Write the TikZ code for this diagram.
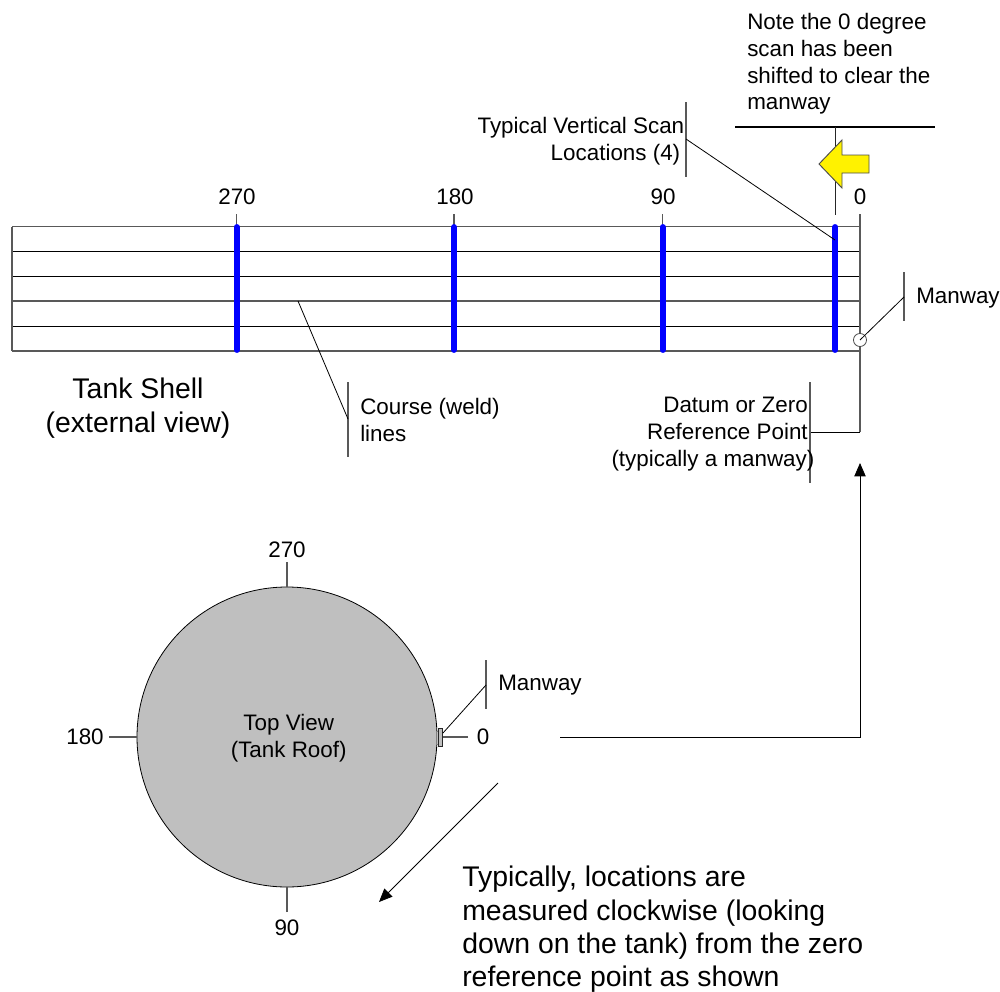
\documentclass[tikz,border=0pt]{standalone}
\usepackage{fontspec}
\setmainfont{Liberation Sans}
\usetikzlibrary{arrows.meta}
\tikzset{
  thin line/.style={draw=black,line width=0.6pt},
  gray line/.style={draw=black!65,line width=0.85pt},
  scan/.style={draw=blue,line width=4.4pt,line cap=round},
  small/.style={font=\fontsize{16.8}{20}\selectfont,inner sep=0pt,text=black},
  big/.style={font=\fontsize{21.3}{25}\selectfont,inner sep=0pt,text=black},
  arrowline/.style={draw=black,line width=0.6pt,-{Triangle[length=10pt,width=8.5pt]}},
}
\begin{document}
\begin{tikzpicture}[x=0.75pt,y=-0.75pt]
\useasboundingbox (0,0) rectangle (1000,992);
% tank shell
\coordinate (L0) at (12,226.7); \coordinate (R0) at (860,226.7);
\coordinate (L1) at (12,251); \coordinate (R1) at (860,251);
\coordinate (L2) at (12,276); \coordinate (R2) at (860,276);
\coordinate (L3) at (12,301); \coordinate (R3) at (860,301);
\coordinate (L4) at (12,326); \coordinate (R4) at (860,326);
\coordinate (L5) at (12,351); \coordinate (R5) at (860,351);
\draw[gray line] (L0) -- (R0);
\draw[thin line] (L1) -- (R1);
\draw[thin line] (L2) -- (R2);
\draw[gray line] (L3) -- (R3);
\draw[thin line] (L4) -- (R4);
\draw[gray line] (L5) -- (R5);
\draw[gray line] (L0) -- (L5);
% ticks
\foreach \n/\x in {a/236.7,b/454,c/662.7}{
  \coordinate (t\n) at (\x,214);
  \coordinate (u\n) at (\x,226);
  \draw[gray line] (t\n) -- (u\n);
  \coordinate (s\n) at (\x,227);
  \coordinate (e\n) at (\x,350);
  \draw[scan] (s\n) -- (e\n);
}
\coordinate (sd) at (835.3,227); \coordinate (ed) at (835.3,350);
\draw[scan] (sd) -- (ed);
\node[small] (n270) at (237,197) {270};
\node[small] (n180) at (455,197) {180};
\node[small] (n90) at (663,197) {90};
\node[small] (n0) at (860,197) {0};
% zero line
\coordinate (z0) at (860,214); \coordinate (z1) at (860,432); \coordinate (zb) at (810,432);
\draw[gray line] (z0) -- (z1);
\draw[thin line] (z1) -- (zb);
\coordinate (db1) at (810,382); \coordinate (db2) at (810,483);
\draw[gray line] (db1) -- (db2);
\node[small,align=right,anchor=east] (datum) at (808,434) {Datum or Zero\\Reference Point\\(typically a manway)\kern-5pt};
% manway on shell
\node[circle,draw=black!70,fill=white,line width=0.6pt,minimum size=9.8pt,inner sep=0pt] (mw) at (860,340) {};
\coordinate (mb1) at (904,272); \coordinate (mb2) at (904,321); \coordinate (mbm) at (904,297);
\draw[gray line] (mb1) -- (mb2);
\draw[thin line] (mw.center) -- (mbm);
\node[small,anchor=west] (mwt) at (916,298) {Manway};
% shifted scan
\coordinate (sl) at (735,127); \coordinate (sr) at (935,127);
\draw[draw=black,line width=1pt] (sl) -- (sr);
\coordinate (st) at (835,127); \coordinate (sb) at (835,215);
\draw[thin line,draw=black!85] (st) -- (sb);
\draw[draw=black!70,fill=yellow,line width=0.7pt] (819,164) -- (842,140) -- (842,155) -- (869,155) -- (869,173) -- (842,173) -- (842,188) -- cycle;
\node[small,align=left,anchor=west] (note) at (747,64) {Note the 0 degree\\scan has been\\shifted to clear the\\manway};
% typical scan label
\coordinate (tb1) at (686,102); \coordinate (tb2) at (686,177); \coordinate (tbm) at (686,139);
\coordinate (tbe) at (835,240);
\draw[gray line] (tb1) -- (tb2);
\draw[thin line] (tbm) -- (tbe);
\node[small,align=right,anchor=east] (typ) at (684.5,141) {Typical Vertical Scan\\Locations (4)\kern3pt};
% course label
\node[big,align=center] (shell) at (138,408) {Tank Shell\\(external view)};
\coordinate (cb1) at (348,382); \coordinate (cb2) at (348,457); \coordinate (cbm) at (348,419);
\coordinate (cbe) at (298,301);
\draw[gray line] (cb1) -- (cb2);
\draw[thin line] (cbm) -- (cbe);
\node[small,align=left,anchor=west] (course) at (360,420) {Course (weld)\\lines};
% top view
\node[circle,draw=black,fill=black!25,line width=0.6pt,minimum size=225pt,inner sep=0pt] (roof) at (287,737) {};
\node[small,align=center] (rooft) at (288.7,738) {Top View\\(Tank Roof)};
\coordinate (k270) at (287,562); \coordinate (k90) at (287,912); \coordinate (k180) at (109,737); \coordinate (k0) at (468,737);
\coordinate (k0b) at (442,737);
\draw[gray line] (k270) -- (roof.north);
\draw[gray line] (k90) -- (roof.south);
\draw[gray line] (k180) -- (roof.west);
\draw[gray line] (k0) -- (k0b);
\node[small] (r270) at (287,550) {270};
\node[small] (r90) at (287,928) {90};
\node[small] (r180) at (85,737) {180};
\node[small] (r0) at (483,737) {0};
\node[draw=black!50,fill=black!25,line width=0.5pt,minimum width=2pt,minimum height=9.5pt,inner sep=0pt] (hatchb) at (437.5,737.5) {};
\node[draw=black!85,fill=black!25,line width=0.6pt,minimum width=2.7pt,minimum height=14pt,inner sep=0pt] (hatch) at (440.5,737.5) {};
\coordinate (hb1) at (486,660); \coordinate (hb2) at (486,709); \coordinate (hbm) at (486,685);
\coordinate (hbe) at (443,733);
\draw[gray line] (hb1) -- (hb2);
\draw[thin line] (hbe) -- (hbm);
\node[small,anchor=west] (htxt) at (498,685) {Manway};
% arrows
\coordinate (a1) at (560,737); \coordinate (a2) at (860,737); \coordinate (a3) at (860,463);
\draw[arrowline] (a1) -- (a2) -- (a3);
\coordinate (c1) at (498,783); \coordinate (c2) at (379,902);
\draw[arrowline] (c1) -- (c2);
\node[big,align=left,anchor=west] (cw) at (462,929.5) {Typically, locations are\\measured clockwise (looking\\down on the tank) from the zero\\reference point as shown};
\end{tikzpicture}
\end{document}
